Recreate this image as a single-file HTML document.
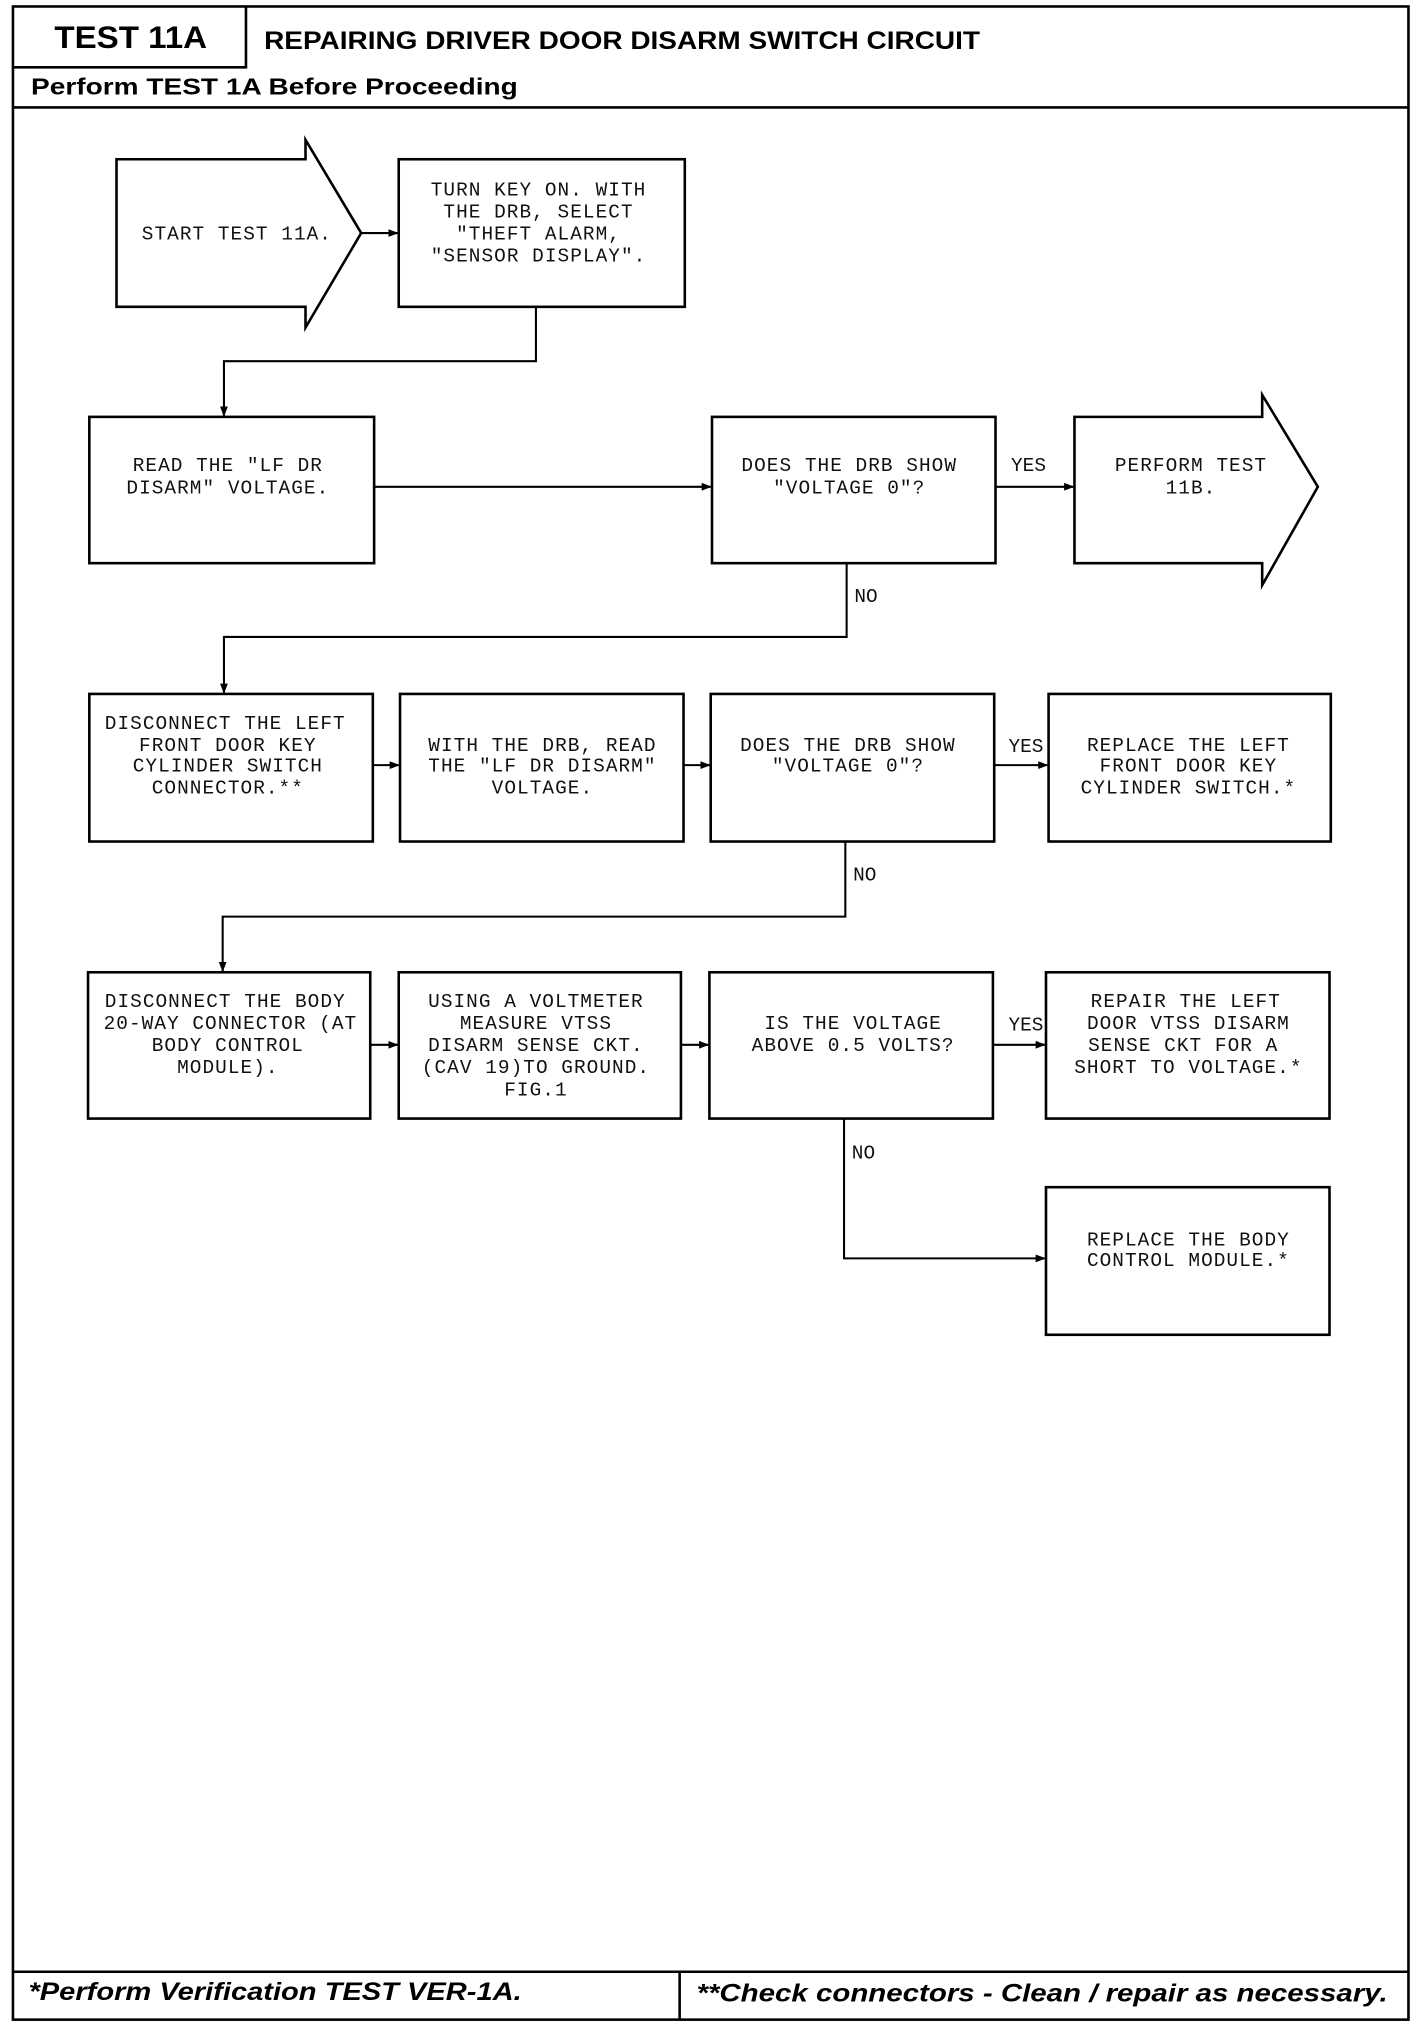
<!DOCTYPE html>
<html><head><meta charset="utf-8"><style>
html,body{margin:0;padding:0;background:#fff;}
svg{display:block;}
.t{font-family:"Liberation Mono",monospace;font-size:15px;letter-spacing:0.8px;fill:#111;text-anchor:middle;}
.l{font-family:"Liberation Mono",monospace;font-size:15px;fill:#111;}
.h{font-family:"Liberation Sans",sans-serif;font-weight:bold;fill:#000;}
</style></head><body>
<svg width="1424" height="2030" viewBox="0 0 1100 1568" preserveAspectRatio="none" xmlns="http://www.w3.org/2000/svg">
<defs><marker id="a" markerWidth="8" markerHeight="8" refX="7" refY="4" orient="auto" markerUnits="userSpaceOnUse"><path d="M0,1 L8,4 L0,7 Z" fill="#000"/></marker></defs>
<g fill="none" stroke="#000" stroke-width="2">
<rect x="10" y="5" width="1078" height="1555"/>
<path d="M190,5 V52 H10"/>
<path d="M10,83 H1088"/>
<path d="M10,1523 H1088 M525,1523 V1560"/>
<path d="M90,123 H236 V108 L279,180 L236,253 V237 H90 Z"/>
<rect x="308" y="123" width="221" height="114"/>
<rect x="69" y="322" width="220" height="113"/>
<rect x="550" y="322" width="219" height="113"/>
<path d="M830,322 H975 V305 L1018,376 L975,452 V435 H830 Z"/>
<rect x="69" y="536" width="219" height="114"/>
<rect x="309" y="536" width="219" height="114"/>
<rect x="549" y="536" width="219" height="114"/>
<rect x="810" y="536" width="218" height="114"/>
<rect x="68" y="751" width="218" height="113"/>
<rect x="308" y="751" width="218" height="113"/>
<rect x="548" y="751" width="219" height="113"/>
<rect x="808" y="751" width="219" height="113"/>
<rect x="808" y="917" width="219" height="114"/>
</g>
<g fill="none" stroke="#000" stroke-width="1.6">
<path d="M279,180 H307" marker-end="url(#a)"/>
<path d="M414,237 V279 H173 V321" marker-end="url(#a)"/>
<path d="M289,376 H549" marker-end="url(#a)"/>
<path d="M769,376 H829" marker-end="url(#a)"/>
<path d="M654,435 V492 H173 V535" marker-end="url(#a)"/>
<path d="M288,591 H308" marker-end="url(#a)"/>
<path d="M528,591 H548" marker-end="url(#a)"/>
<path d="M768,591 H809" marker-end="url(#a)"/>
<path d="M653,650 V708 H172 V750" marker-end="url(#a)"/>
<path d="M286,807 H307" marker-end="url(#a)"/>
<path d="M526,807 H547" marker-end="url(#a)"/>
<path d="M767,807 H807" marker-end="url(#a)"/>
<path d="M652,864 V972 H807" marker-end="url(#a)"/>
</g>
<text class="h" x="42" y="37" font-size="24" textLength="118" lengthAdjust="spacingAndGlyphs">TEST 11A</text>
<text class="h" x="204" y="38" font-size="19" textLength="553" lengthAdjust="spacingAndGlyphs">REPAIRING DRIVER DOOR DISARM SWITCH CIRCUIT</text>
<text class="h" x="24" y="73" font-size="18" textLength="376" lengthAdjust="spacingAndGlyphs">Perform TEST 1A Before Proceeding</text>
<text class="h" x="22" y="1545" font-size="19" font-style="italic" textLength="381" lengthAdjust="spacingAndGlyphs">*Perform Verification TEST VER-1A.</text>
<text class="h" x="538" y="1546" font-size="19" font-style="italic" textLength="534" lengthAdjust="spacingAndGlyphs">**Check connectors - Clean / repair as necessary.</text>

<text class="t" x="183" y="185">START TEST 11A.</text>
<text class="t" x="416" y="151">TURN KEY ON. WITH</text>
<text class="t" x="416" y="168">THE DRB, SELECT</text>
<text class="t" x="416" y="185">"THEFT ALARM,</text>
<text class="t" x="416" y="202">"SENSOR DISPLAY".</text>
<text class="t" x="176" y="364">READ THE "LF DR</text>
<text class="t" x="176" y="381">DISARM" VOLTAGE.</text>
<text class="t" x="656" y="364">DOES THE DRB SHOW</text>
<text class="t" x="656" y="381">"VOLTAGE 0"?</text>
<text class="l" x="781" y="364">YES</text>
<text class="t" x="920" y="364">PERFORM TEST</text>
<text class="t" x="920" y="381">11B.</text>
<text class="l" x="660" y="465">NO</text>

<text class="t" x="174" y="563">DISCONNECT THE LEFT</text>
<text class="t" x="176" y="580">FRONT DOOR KEY</text>
<text class="t" x="176" y="596">CYLINDER SWITCH</text>
<text class="t" x="176" y="613">CONNECTOR.**</text>
<text class="t" x="419" y="580">WITH THE DRB, READ</text>
<text class="t" x="419" y="596">THE "LF DR DISARM"</text>
<text class="t" x="419" y="613">VOLTAGE.</text>
<text class="t" x="655" y="580">DOES THE DRB SHOW</text>
<text class="t" x="655" y="596">"VOLTAGE 0"?</text>
<text class="l" x="779" y="581">YES</text>
<text class="t" x="918" y="580">REPLACE THE LEFT</text>
<text class="t" x="918" y="596">FRONT DOOR KEY</text>
<text class="t" x="918" y="613">CYLINDER SWITCH.*</text>
<text class="l" x="659" y="680">NO</text>

<text class="t" x="174" y="778">DISCONNECT THE BODY</text>
<text class="t" x="178" y="795">20-WAY CONNECTOR (AT</text>
<text class="t" x="176" y="812">BODY CONTROL</text>
<text class="t" x="176" y="829">MODULE).</text>
<text class="t" x="414" y="778">USING A VOLTMETER</text>
<text class="t" x="414" y="795">MEASURE VTSS</text>
<text class="t" x="414" y="812">DISARM SENSE CKT.</text>
<text class="t" x="414" y="829">(CAV 19)TO GROUND.</text>
<text class="t" x="414" y="846">FIG.1</text>
<text class="t" x="659" y="795">IS THE VOLTAGE</text>
<text class="t" x="659" y="812">ABOVE 0.5 VOLTS?</text>
<text class="l" x="779" y="796">YES</text>
<text class="t" x="916" y="778">REPAIR THE LEFT</text>
<text class="t" x="918" y="795">DOOR VTSS DISARM</text>
<text class="t" x="914" y="812">SENSE CKT FOR A</text>
<text class="t" x="918" y="829">SHORT TO VOLTAGE.*</text>
<text class="l" x="658" y="895">NO</text>

<text class="t" x="918" y="962">REPLACE THE BODY</text>
<text class="t" x="918" y="978">CONTROL MODULE.*</text>
</svg>
</body></html>
